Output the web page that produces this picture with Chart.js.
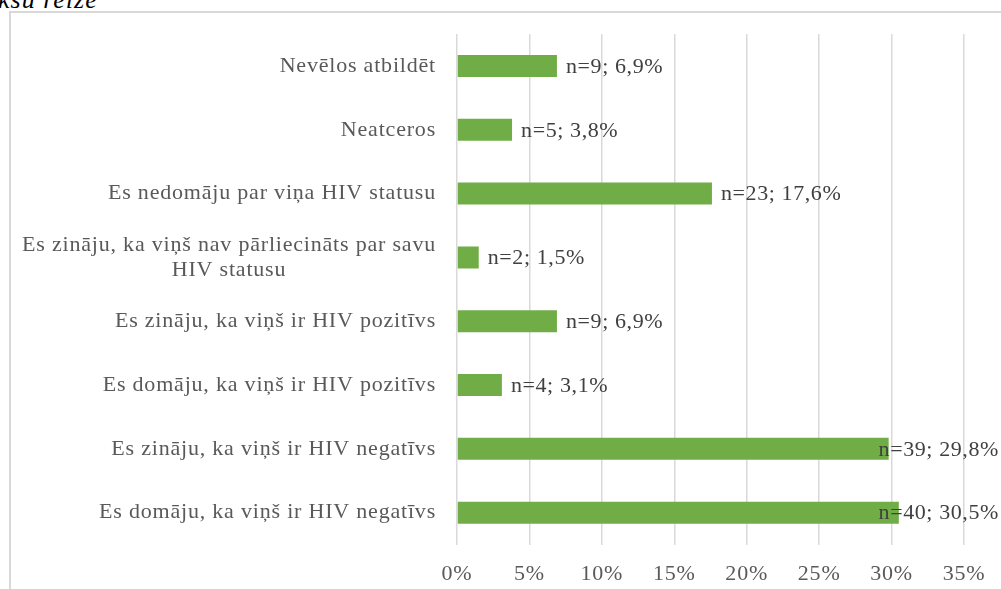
<!DOCTYPE html>
<html>
<head>
<meta charset="utf-8">
<script src="https://cdn.jsdelivr.net/npm/chart.js@4.4.1/dist/chart.umd.min.js"></script>
<style>
  html, body { margin: 0; padding: 0; background: #fff; overflow: hidden; }
  #wrap { position: relative; width: 1001px; height: 589px; overflow: hidden; }
  #frame { position: absolute; left: 9px; top: 11px; width: 1100px; height: 700px;
           border: 2px solid #d9d9d9; box-sizing: border-box; }
  #caption { position: absolute; left: -2px; top: -13px; font: italic 26px "Liberation Serif", serif;
             letter-spacing: 1px; color: #000; line-height: 26px; white-space: nowrap; }
  #box { position: absolute; left: 0; top: 0; width: 1001px; height: 605px; }
</style>
</head>
<body>
<div id="wrap">
  <div id="caption">ksu reizē</div>
  <div id="frame"></div>
  <div id="box"><canvas id="chart"></canvas></div>
</div>
<script>
// kategorijas (no augšas uz leju)
const categories = [
  'Nevēlos atbildēt',
  'Neatceros',
  'Es nedomāju par viņa HIV statusu',
  ['Es zināju, ka viņš nav pārliecināts par savu', 'HIV statusu'],
  'Es zināju, ka viņš ir HIV pozitīvs',
  'Es domāju, ka viņš ir HIV pozitīvs',
  'Es zināju, ka viņš ir HIV negatīvs',
  'Es domāju, ka viņš ir HIV negatīvs'
];
const counts = [9, 5, 23, 2, 9, 4, 39, 40];
const percents = [6.9, 3.8, 17.6, 1.5, 6.9, 3.1, 29.8, 30.5];
const xTicks = [0, 5, 10, 15, 20, 25, 30, 35];

const serif = '"Liberation Serif", "Times New Roman", serif';

// kategoriju nosaukumi - rindas centrētas savā blokā, bloks pielīdzināts pa labi
const yLabelPlugin = {
  id: 'yLabels',
  afterDraw(chart) {
    const ctx = chart.ctx;
    const y = chart.scales.y;
    const right = 436;
    const lh = 25;
    ctx.save();
    ctx.letterSpacing = '0.8px';
    ctx.font = '22px ' + serif;
    ctx.fillStyle = '#595959';
    ctx.textAlign = 'center';
    ctx.textBaseline = 'middle';
    categories.forEach((c, i) => {
      const lines = Array.isArray(c) ? c : [c];
      const w = Math.max(...lines.map(l => ctx.measureText(l).width));
      const cy = y.getPixelForValue(i);
      lines.forEach((l, k) => {
        const ly = cy + (k - (lines.length - 1) / 2) * lh;
        ctx.fillText(l, right - w / 2, ly);
      });
    });
    ctx.restore();
  }
};

// vērtību uzraksti aiz stabiņiem
const valueLabelPlugin = {
  id: 'valueLabels',
  afterDatasetsDraw(chart) {
    const ctx = chart.ctx;
    const meta = chart.getDatasetMeta(0);
    ctx.save();
    ctx.letterSpacing = '0.6px';
    ctx.font = '22px ' + serif;
    ctx.fillStyle = '#404040';
    ctx.textAlign = 'left';
    ctx.textBaseline = 'middle';
    meta.data.forEach((bar, i) => {
      const txt = 'n=' + counts[i] + '; ' + percents[i].toFixed(1).replace('.', ',') + '%';
      const w = ctx.measureText(txt).width;
      let x = bar.x + 9;
      if (x + w > 999) x = 999 - w;
      ctx.fillText(txt, x, bar.y + 1);
    });
    ctx.restore();
  }
};

new Chart(document.getElementById('chart'), {
  type: 'bar',
  data: {
    labels: categories,
    datasets: [{
      data: percents,
      backgroundColor: '#70ad47',
      borderWidth: 0,
      categoryPercentage: 1,
      barPercentage: 0.345
    }]
  },
  options: {
    indexAxis: 'y',
    responsive: true,
    maintainAspectRatio: false,
    animation: false,
    events: [],
    layout: { padding: { left: 457, right: 37, top: 34, bottom: 2 } },
    plugins: { legend: { display: false }, tooltip: { enabled: false } },
    scales: {
      x: {
        min: 0,
        max: 35,
        afterBuildTicks(axis) { axis.ticks = xTicks.map(v => ({ value: v })); },
        grid: { color: '#d9d9d9', lineWidth: 1.5, drawTicks: false },
        border: { display: false },
        ticks: {
          font: { family: serif, size: 22 },
          color: '#595959',
          padding: 16,
          callback: v => v + '%'
        }
      },
      y: {
        display: false
      }
    }
  },
  plugins: [
    { id: 'spacing', beforeDraw(chart) { chart.ctx.letterSpacing = '0.8px'; } },
    yLabelPlugin, valueLabelPlugin
  ]
});
</script>
</body>
</html>
